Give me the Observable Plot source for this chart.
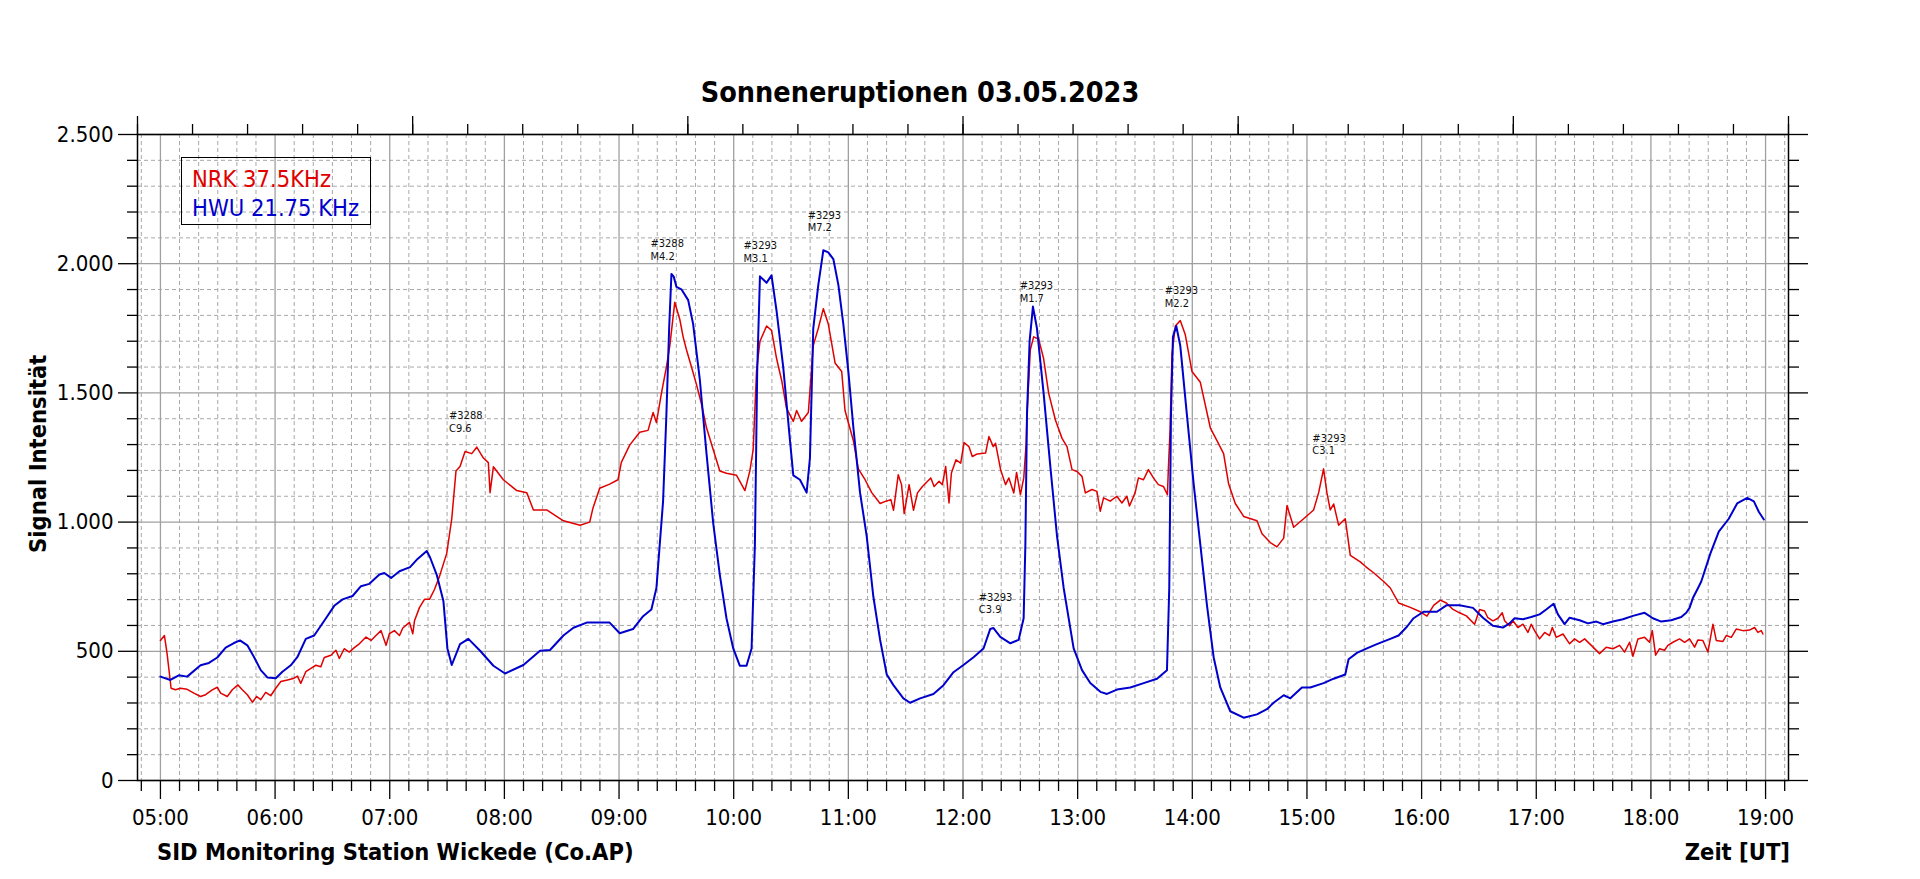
<!DOCTYPE html>
<html>
<head>
<meta charset="utf-8">
<script src="https://cdn.jsdelivr.net/npm/d3@7"></script>
<script src="https://cdn.jsdelivr.net/npm/@observablehq/plot@0.6"></script>
<style>
  html, body { margin: 0; padding: 0; background: #fff; }
  #wrap { position: relative; width: 1920px; height: 879px; overflow: hidden;
          font-family: "DejaVu Sans Condensed", "DejaVu Sans", sans-serif; color: #000; }
  #wrap svg { position: absolute; left: 0; top: 0; }
  .title { position: absolute; left: 520px; width: 800px; top: 79px; text-align: center;
           font-weight: bold; font-size: 28.5px; line-height: 1; white-space: nowrap; }
  .legend { position: absolute; left: 181px; top: 157px; width: 188px; height: 66px;
            border: 1.5px solid #000; box-sizing: content-box; }
  .legend div { position: absolute; left: 10px; font-size: 23.5px; line-height: 1; white-space: nowrap; }
  .ylab { position: absolute; left: -111px; top: 442px; width: 300px; text-align: center;
          font-weight: bold; font-size: 23.5px; line-height: 1; transform: rotate(-90deg); white-space: nowrap; }
  .xl { position: absolute; top: 841px; font-weight: bold; font-size: 23.5px; line-height: 1; white-space: nowrap; }
</style>
</head>
<body>
<div id="wrap">
  <div class="title">Sonneneruptionen 03.05.2023</div>
  <div class="ylab">Signal Intensität</div>
  <div class="xl" style="left:157px;">SID Monitoring Station Wickede (Co.AP)</div>
  <div class="xl" style="right:130px;">Zeit [UT]</div>
  <div class="legend">
    <div style="top:10px;color:#e00000;">NRK 37.5KHz</div>
    <div style="top:39px;color:#0000cc;">HWU 21.75 KHz</div>
  </div>
</div>
<script>
// ---- data (time in decimal hours UT, signal intensity) ----
const nrkT = [5.000,5.035,5.058,5.093,5.131,5.175,5.233,5.292,5.350,5.394,5.452,5.496,5.525,5.583,5.627,5.676,5.714,5.758,5.802,5.840,5.875,5.918,5.962,6.006,6.050,6.108,6.166,6.195,6.224,6.268,6.312,6.356,6.399,6.429,6.487,6.531,6.560,6.603,6.647,6.691,6.735,6.793,6.837,6.880,6.924,6.968,6.997,7.041,7.085,7.114,7.172,7.201,7.216,7.259,7.303,7.347,7.391,7.434,
  7.497,7.541,7.578,7.613,7.657,7.715,7.759,7.817,7.860,7.875,7.904,7.991,8.108,8.195,8.253,8.369,8.515,8.660,8.744,8.773,8.831,8.918,8.991,9.020,9.093,9.180,9.253,9.297,9.326,9.370,9.413,9.443,9.486,9.530,9.559,9.588,9.632,9.675,9.719,9.763,9.821,9.879,9.937,10.025,10.098,10.141,10.170,10.199,10.229,10.287,10.330,10.374,10.418,10.461,10.520,10.549,10.592,10.651,10.694,10.738,10.782,10.825,10.884,10.942,10.971,11.044,11.087,11.146,11.204,11.277,
  11.328,11.371,11.394,11.435,11.464,11.487,11.530,11.568,11.603,11.646,11.719,11.748,11.791,11.820,11.849,11.878,11.899,11.939,11.980,12.009,12.052,12.081,12.125,12.197,12.226,12.264,12.284,12.328,12.371,12.400,12.443,12.467,12.501,12.530,12.551,
  12.558,12.587,12.616,12.660,12.703,12.747,
  12.806,12.864,12.907,12.951,12.994,13.038,13.067,13.125,13.168,13.197,13.226,13.284,13.342,13.386,13.429,13.452,13.501,13.530,13.574,13.617,13.661,13.704,13.748,13.783,13.791,13.806,
  13.823,13.852,13.895,13.939,13.997,14.070,14.157,14.215,14.273,14.317,14.375,14.448,14.564,14.608,14.680,14.738,14.797,14.826,14.884,14.971,15.058,15.102,15.145,15.174,15.203,15.233,15.276,15.334,15.378,15.465,15.509,15.581,15.669,15.727,15.799,15.901,15.988,16.047,16.105,16.163,16.216,16.274,
  16.331,16.390,16.462,16.506,16.549,16.578,16.622,16.666,16.703,16.724,16.767,16.797,16.840,16.884,16.927,16.956,16.985,17.029,17.073,17.116,17.140,17.174,17.233,17.291,17.334,17.378,17.422,17.480,17.552,17.610,17.669,17.727,17.770,17.814,17.843,17.887,17.945,17.988,18.012,18.041,18.076,18.119,18.148,18.192,18.250,18.294,18.337,18.381,18.410,18.453,18.497,18.541,18.570,18.628,18.657,18.701,18.744,18.802,18.860,18.904,18.933,18.962,18.977];
const nrkV = [542,561,491,357,351,357,353,338,325,332,351,361,338,325,351,370,351,332,303,325,313,341,328,357,383,389,396,404,376,421,434,446,440,476,485,504,472,510,497,514,529,555,542,561,580,523,568,580,561,590,612,568,618,669,701,701,740,790,
  879,1013,1198,1215,1273,1265,1290,1248,1230,1114,1214,1164,1122,1114,1047,1047,1005,988,1000,1055,1131,1147,1164,1231,1298,1348,1355,1424,1385,1499,1600,1683,1851,1784,1717,1667,1600,1533,1457,1365,1281,1198,1189,1181,1122,1198,1281,1583,1700,1759,1742,1633,1549,1440,1390,1432,1390,1424,1683,1750,1826,1767,1616,1583,1432,1315,1206,1164,1114,1072,
  1081,1087,1046,1183,1145,1033,1145,1046,1113,1138,1171,1138,1158,1145,1215,1074,1190,1241,1228,1308,1292,1254,1264,1267,1331,1292,1305,1203,1145,1171,1113,1192,1106,1171,1305,
  1415,1667,1717,1708,1633,1499,
  1395,1324,1292,1203,1196,1177,1113,1126,1119,1042,1094,1081,1100,1074,1100,1062,1113,1171,1164,1203,1171,1145,1138,1106,1203,1356,
  1650,1759,1780,1725,1583,1541,1365,1315,1265,1147,1072,1022,1005,955,921,904,938,1064,980,1013,1047,1114,1206,1114,1047,1070,988,1013,871,846,829,804,770,745,687,670,653,636,678,698,687,662,
  649,637,605,662,656,630,618,628,649,618,599,618,592,605,573,605,580,548,573,561,592,554,567,529,548,535,548,523,491,516,510,523,497,535,481,548,554,535,580,485,510,504,523,535,548,535,548,516,544,542,497,605,542,538,561,554,586,580,582,592,573,580,567];

const hwuT = [5.000,5.087,5.160,5.233,5.350,5.423,5.496,5.569,5.641,5.694,5.758,5.816,5.875,5.933,6.006,6.064,6.137,6.195,6.268,6.341,6.429,6.516,6.589,6.676,6.749,6.822,6.910,6.953,7.012,7.085,
  7.177,7.235,7.323,7.352,7.410,7.468,7.503,7.541,7.613,7.686,7.788,7.904,8.006,8.166,8.311,8.398,8.515,8.602,8.718,8.773,8.918,9.006,9.122,9.210,9.282,9.326,9.355,9.384,9.413,9.437,9.457,9.477,9.501,9.544,9.603,9.646,9.705,9.763,9.821,9.879,9.937,9.996,10.054,10.112,10.156,10.185,10.205,10.229,10.287,10.330,10.374,10.432,10.491,10.520,10.578,10.636,10.665,10.694,10.738,10.782,10.825,10.869,10.913,10.956,11.000,11.044,11.102,11.160,11.218,11.277,11.335,11.393,11.480,11.539,11.626,11.742,11.830,11.917,12.004,12.092,12.179,12.237,12.266,12.325,12.413,12.485,12.529,12.544,12.558,12.581,12.610,12.645,12.703,12.762,12.820,12.878,12.965,13.038,13.110,13.198,13.256,13.343,13.459,13.576,13.692,13.779,13.799,13.814,13.831,13.860,13.895,13.953,14.012,14.070,14.128,14.186,14.244,14.331,14.448,14.564,14.651,14.709,14.797,14.855,14.956,15.029,15.145,15.233,15.334,15.363,15.436,15.523,15.610,15.727,15.799,15.872,15.930,16.017,16.134,16.216,
  16.331,16.448,16.535,16.622,16.709,16.767,16.811,16.884,16.956,17.029,17.087,17.151,17.189,17.247,17.291,17.378,17.451,17.524,17.582,17.669,17.756,17.843,17.945,18.017,18.090,18.177,18.265,18.308,18.337,18.366,18.410,18.439,
  18.519,18.592,18.679,18.752,18.840,18.898,18.942,18.985];
const hwuV = [402,389,407,402,446,455,476,514,532,542,523,478,427,399,396,421,446,478,548,561,618,676,701,714,752,761,797,803,784,810,
  826,854,888,863,796,695,511,447,528,548,502,444,414,447,502,505,561,591,611,611,611,570,586,636,662,745,913,1080,1415,1750,1960,1950,1910,1901,1859,1767,1549,1265,997,796,628,511,444,444,511,913,1583,1951,1926,1955,1817,1600,1315,1181,1164,1114,1248,1750,1918,2052,2044,2018,1918,1767,1583,1365,1114,946,712,544,410,369,318,301,318,335,369,419,447,477,511,586,590,556,531,544,628,913,1415,1700,1834,1750,1499,1214,946,745,511,427,377,343,335,352,360,377,394,427,745,1415,1717,1759,1683,1415,1147,913,678,477,360,268,243,256,276,301,330,318,360,360,377,394,410,469,494,511,528,548,561,595,628,653,653,678,
  678,668,630,599,592,608,628,624,633,643,662,684,643,605,630,620,608,615,605,615,624,637,649,628,615,620,633,649,668,706,744,770,
  879,963,1013,1072,1094,1080,1039,1010];

// flare annotations: time, signal level of the label block, region, class
const flareT = [7.517, 9.274, 10.086, 10.645, 12.138, 12.494, 13.759, 15.047];
const flareV = [1390, 2055, 2047, 2166, 687, 1893, 1873, 1302];
const flareRegion = ["#3288","#3288","#3293","#3293","#3293","#3293","#3293","#3293"];
const flareClass = ["C9.6","M4.2","M3.1","M7.2","C3.9","M1.7","M2.2","C3.1"];

// axis ticks / labels
const xDomain = [4.8, 19.2];
const hourTicks = [5,6,7,8,9,10,11,12,13,14,15,16,17,18,19];
const hourLabels = ["05:00","06:00","07:00","08:00","09:00","10:00","11:00","12:00","13:00","14:00","15:00","16:00","17:00","18:00","19:00"];
const yMajor = [0,500,1000,1500,2000,2500];
const yLabels = ["0","500","1.000","1.500","2.000","2.500"];

// derived tick sets
const minorX = d3.range(29, 116).map(k => k / 6).filter(h => Math.abs(h - Math.round(h)) > 1e-6);
const yMinor = d3.range(100, 2500, 100).filter(v => v % 500 !== 0);
const topMinor = d3.range(0, 31).map(k => 4.8 + k * 0.48);
const topMajor = d3.range(0, 7).map(k => 4.8 + k * 2.4);

const nrk = nrkT.map((t, i) => ({t, v: nrkV[i]}));
const hwu = hwuT.map((t, i) => ({t, v: hwuV[i]}));
const flares = flareT.map((t, i) => ({t, v: flareV[i], label: flareRegion[i] + "\n" + flareClass[i]}));

const blank = () => "";
const FS = 22;

const chart = Plot.plot({
  width: 1920,
  height: 879,
  marginLeft: 137,
  marginRight: 132,
  marginTop: 134,
  marginBottom: 99,
  style: {fontFamily: '"DejaVu Sans Condensed", "DejaVu Sans", sans-serif', fontSize: FS + "px", color: "#000", background: "transparent", overflow: "visible"},
  x: {domain: xDomain},
  y: {domain: [0, 2500]},
  marks: [
    Plot.gridX(minorX, {stroke: "#a8a8a8", strokeOpacity: 1, strokeDasharray: "4,3", strokeWidth: 1}),
    Plot.gridY(yMinor, {stroke: "#a8a8a8", strokeOpacity: 1, strokeDasharray: "4,3", strokeWidth: 1}),
    Plot.gridX(hourTicks, {stroke: "#a0a0a0", strokeOpacity: 1, strokeWidth: 1.3}),
    Plot.gridY(yMajor, {stroke: "#a0a0a0", strokeOpacity: 1, strokeWidth: 1.3}),
    Plot.line(nrk, {x: "t", y: "v", stroke: "#e00000", strokeWidth: 1.5}),
    Plot.line(hwu, {x: "t", y: "v", stroke: "#0000cc", strokeWidth: 2}),
    Plot.text(flares, {x: "t", y: "v", text: "label", textAnchor: "start", lineAnchor: "middle", fontSize: 11, lineHeight: 1.15, fill: "#111"}),
    Plot.frame({stroke: "#000", strokeWidth: 1.5}),
    Plot.axisY({ticks: yMajor, tickSize: 19, tickPadding: 5, strokeWidth: 1.3, tickFormat: d => yLabels[yMajor.indexOf(d)], fontSize: FS, label: null}),
    Plot.axisY({ticks: yMinor, tickSize: 10, strokeWidth: 1.3, tickFormat: blank, label: null}),
    Plot.axisY({anchor: "right", ticks: yMajor, tickSize: 19, strokeWidth: 1.3, tickFormat: blank, label: null}),
    Plot.axisY({anchor: "right", ticks: yMinor, tickSize: 10, strokeWidth: 1.3, tickFormat: blank, label: null}),
    Plot.axisX({ticks: hourTicks, tickSize: 19, tickPadding: 10, strokeWidth: 1.3, tickFormat: d => hourLabels[hourTicks.indexOf(d)], fontSize: FS, label: null}),
    Plot.axisX({ticks: minorX, tickSize: 11, strokeWidth: 1.3, tickFormat: blank, label: null}),
    Plot.axisX({anchor: "top", ticks: topMinor, tickSize: 11, strokeWidth: 1.3, tickFormat: blank, label: null}),
    Plot.axisX({anchor: "top", ticks: topMajor, tickSize: 19, strokeWidth: 1.3, tickFormat: blank, label: null})
  ]
});

document.getElementById("wrap").prepend(chart);
</script>
</body>
</html>
